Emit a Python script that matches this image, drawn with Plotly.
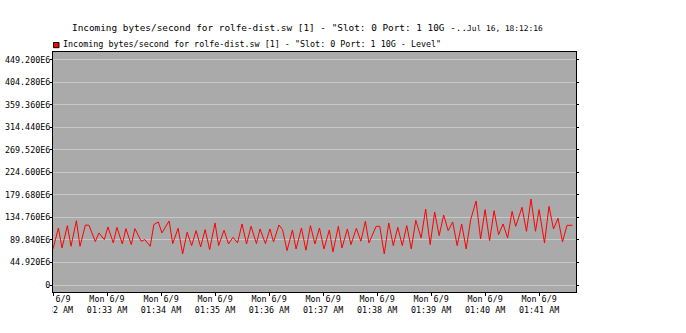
import plotly.graph_objects as go
import pandas as pd

# ---------------- data ----------------
base_time = "2014-06-09 01:32:00"
offsets_s = [0, 6, 10, 16, 20, 26, 30, 36, 40, 47, 51, 57, 61, 67, 71, 77, 81, 87, 91,
             98, 102, 108, 112, 117, 121, 129, 133, 139, 144, 149, 154, 159, 164, 169, 174,
             180, 184, 190, 195, 200, 205, 210, 215, 220, 226, 230, 236, 241, 245, 251, 255,
             260, 266, 270, 276, 281, 286, 291, 296, 301, 307, 311, 317, 321, 327, 331, 337,
             342, 347, 351, 359, 363, 368, 373, 378, 383, 388, 393, 398, 403, 409, 414, 419,
             424, 429, 434, 439, 444, 449, 454, 459, 464, 470, 475, 480, 485, 490, 495, 500,
             505, 510, 514, 521, 526, 531, 536, 540, 546, 551, 556, 561, 566, 571, 577]
values_e6 = [71.9, 113.7, 73.9, 118.4, 77.2, 128.3, 77.2, 119.7, 119.0, 86.5, 103.8, 90.5,
             115.7, 83.9, 115.0, 81.9, 112.4, 80.5, 112.4, 87.2, 90.5, 77.2, 120.4, 125.7,
             103.8, 127.7, 82.5, 113.1, 62.0, 105.1, 78.6, 108.4, 75.9, 110.4, 70.6, 123.7,
             78.6, 109.1, 81.9, 95.1, 83.9, 121.7, 81.9, 117.0, 82.5, 111.7, 82.5, 111.7,
             85.9, 119.7, 110.4, 68.6, 109.7, 71.9, 113.7, 69.3, 118.4, 81.9, 113.7, 71.9,
             109.7, 65.9, 117.0, 73.9, 111.7, 80.5, 113.1, 87.2, 127.0, 83.9, 117.0, 117.0,
             62.0, 123.7, 78.6, 115.0, 78.6, 118.4, 71.9, 129.0, 93.8, 151.5, 80.5, 145.6,
             98.5, 139.6, 108.4, 125.7, 78.6, 121.7, 71.9, 130.3, 167.5, 91.8, 150.2, 88.5,
             148.2, 100.5, 121.7, 93.8, 146.9, 117.0, 154.9, 107.1, 171.4, 107.1, 150.2,
             83.9, 156.9, 111.7, 133.0, 85.9, 119.0, 119.0]

y_tick_values = [0, 44.92e6, 89.84e6, 134.76e6, 179.68e6, 224.6e6, 269.52e6,
                 314.44e6, 359.36e6, 404.28e6, 449.2e6]
y_tick_labels = ["0", "44.920E6", "89.840E6", "134.760E6", "179.680E6", "224.600E6",
                 "269.520E6", "314.440E6", "359.360E6", "404.280E6", "449.200E6"]
x_tick_times = ["01:32", "01:33", "01:34", "01:35", "01:36", "01:37", "01:38",
                "01:39", "01:40", "01:41"]
x_tick_labels = ["Mon 6/9<br>%s AM" % t for t in x_tick_times]

series_name = 'Incoming bytes/second for rolfe-dist.sw [1] - "Slot: 0 Port: 1 10G - Level"'
title_main = 'Incoming bytes/second for rolfe-dist.sw [1] - "Slot: 0 Port: 1 10G -..'
title_date = "Jul 16, 18:12:16"

x_range_end_s = 581
y_range = [-13.96e6, 464.6e6]

# ---------------- figure ----------------
FONT = "DejaVu Sans Mono"
FS = 8.4
base = pd.Timestamp(base_time)
times = [base + pd.Timedelta(seconds=s) for s in offsets_s]
vals = [v * 1e6 for v in values_e6]
tickvals_x = [pd.Timestamp("2014-06-09 " + t + ":00") for t in x_tick_times]

fig = go.Figure()
fig.add_trace(go.Scatter(x=times, y=vals, mode="lines", name=series_name,
                         line=dict(color="#FF0000", width=1), showlegend=False,
                         hoverinfo="skip"))

fig.update_layout(
    width=686, height=333,
    margin=dict(l=53, r=110, t=52, b=41),
    paper_bgcolor="white", plot_bgcolor="#AAAAAA",
    showlegend=False,
    font=dict(family=FONT, size=FS, color="black"),
    title=dict(text=title_main + '<span style="font-size:7.85px">' + title_date + '</span>',
               xref="container", yref="container", x=72 / 686, xanchor="left",
               y=1 - 28 / 333, yanchor="middle",
               font=dict(family=FONT, size=9.4, color="black")),
)

fig.update_xaxes(type="date", range=[base, base + pd.Timedelta(seconds=x_range_end_s)],
                 tickvals=tickvals_x, ticktext=x_tick_labels, tickangle=0,
                 ticks="outside", ticklen=3, tickcolor="black", showgrid=False,
                 showline=True, linecolor="black", linewidth=1, mirror=True,
                 zeroline=False, automargin=False, ticklabelstandoff=-4,
                 tickfont=dict(family=FONT, size=FS))
fig.update_yaxes(range=y_range, tickvals=y_tick_values, ticktext=y_tick_labels,
                 ticks="outside", ticklen=2, tickcolor="black", showgrid=True,
                 gridcolor="#C8C8C8", gridwidth=1, showline=True, linecolor="black",
                 linewidth=1, mirror="ticks", zeroline=False, automargin=False,
                 ticklabelstandoff=-2, tickfont=dict(family=FONT, size=FS))

# legend swatch + text
fig.add_shape(type="rect", xref="paper", yref="paper", x0=0.001, x1=0.0115,
              y0=(292 - 47.7) / 240, y1=(292 - 42.5) / 240,
              fillcolor="#FF0000", line=dict(color="black", width=1))
fig.add_annotation(text=series_name, xref="paper", yref="paper",
                   x=(61 - 53) / 523, y=(292 - 44) / 240, xanchor="left", yanchor="middle",
                   showarrow=False, font=dict(family=FONT, size=FS, color="black"))

# clip x tick labels at the plot's left edge (as in the reference)
fig.add_shape(type="rect", xref="paper", yref="paper", x0=-0.2, x1=-0.001,
              y0=-0.3, y1=-0.006, fillcolor="white", line=dict(width=0), layer="above")

fig.write_html("out.html")
